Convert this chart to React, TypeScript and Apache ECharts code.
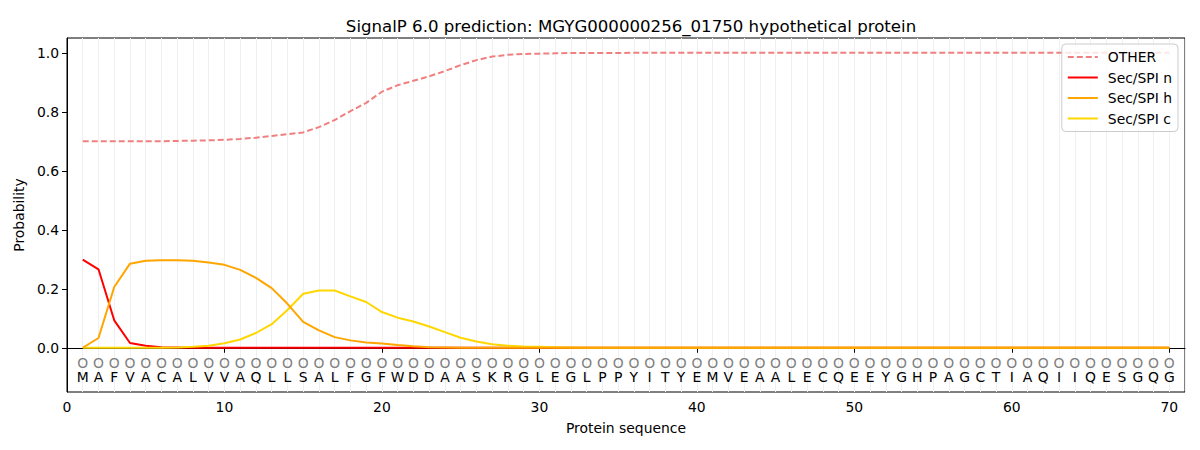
import React, { useEffect, useRef } from "react";
import * as echarts from "echarts";

const TITLE = "SignalP 6.0 prediction: MGYG000000256_01750 hypothetical protein";

const sequence = [
  "M","A","F","V","A","C","A","L","V","V",
  "A","Q","L","L","S","A","L","F","G","F",
  "W","D","D","A","A","S","K","R","G","L",
  "E","G","L","P","P","Y","I","T","Y","E",
  "M","V","E","A","A","L","E","C","Q","E",
  "E","Y","G","H","P","A","G","C","T","I",
  "A","Q","I","I","Q","E","S","G","Q","G",
];

const otherProb = [
  0.700,0.700,0.700,0.700,0.700,0.700,0.701,0.702,0.703,0.705,
  0.708,0.712,0.718,0.724,0.730,0.748,0.772,0.802,0.830,0.868,
  0.890,0.905,0.920,0.938,0.958,0.975,0.987,0.993,0.996,0.997,
  0.998,0.999,0.999,0.999,0.999,1,1,1,1,1,
  1,1,1,1,1,1,1,1,1,1,
  1,1,1,1,1,1,1,1,1,1,
  1,1,1,1,1,1,1,1,1,1,
];

const secN = [
  0.299,0.266,0.093,0.016,0.007,0.002,0.001,0,0,0,
  0,0,0,0,0,0,0,0,0,0,
  0,0,0,0,0,0,0,0,0,0,
  0,0,0,0,0,0,0,0,0,0,
  0,0,0,0,0,0,0,0,0,0,
  0,0,0,0,0,0,0,0,0,0,
  0,0,0,0,0,0,0,0,0,0,
];

const secH = [
  0,0.033,0.206,0.285,0.295,0.297,0.297,0.295,0.289,0.281,
  0.264,0.237,0.202,0.149,0.088,0.059,0.036,0.025,0.018,0.014,
  0.009,0.005,0.002,0.001,0,0,0,0,0,0,
  0,0,0,0,0,0,0,0,0,0,
  0,0,0,0,0,0,0,0,0,0,
  0,0,0,0,0,0,0,0,0,0,
  0,0,0,0,0,0,0,0,0,0,
];

const secC = [
  0,0,0,0,0,0,0.001,0.003,0.007,0.015,
  0.028,0.050,0.080,0.128,0.183,0.194,0.194,0.174,0.155,0.121,
  0.102,0.089,0.072,0.053,0.034,0.021,0.012,0.007,0.004,0.003,
  0.002,0.001,0,0,0,0,0,0,0,0,
  0,0,0,0,0,0,0,0,0,0,
  0,0,0,0,0,0,0,0,0,0,
  0,0,0,0,0,0,0,0,0,0,
];

const xTicks = [0, 10, 20, 30, 40, 50, 60, 70];
const yTicks = [0, 0.2, 0.4, 0.6, 0.8, 1.0];
const MARKER_Y = -0.05;
const LETTER_Y = -0.1;

const FONT = "DejaVu Sans";
const FS = 13.9;

function toPoints(vals: number[]) {
  return vals.map((v, i) => [i + 1, v]);
}

export default function App() {
  const ref = useRef<HTMLDivElement>(null);
  useEffect(() => {
    if (!ref.current) return;
    const chart = echarts.init(ref.current, null, { renderer: "svg" });
    const textSeries = (yVal: number, getText: (i: number) => string, color: string, name: string) => ({
      type: "custom",
      name,
      xAxisIndex: 0,
      yAxisIndex: 0,
      silent: true,
      z: 1,
      data: sequence.map((_, i) => [i + 1, yVal]),
      encode: { x: 0, y: 1 },
      renderItem: (params: any, api: any) => {
        const p = api.coord([api.value(0), api.value(1)]);
        return {
          type: "text",
          x: p[0],
          y: p[1],
          style: {
            text: getText(params.dataIndex),
            fill: color,
            font: `${FS}px '${FONT}'`,
            align: "center",
            verticalAlign: "middle",
          },
        };
      },
    });

    chart.setOption({
      animation: false,
      backgroundColor: "#ffffff",
      textStyle: { fontFamily: FONT },
      title: {
        text: TITLE,
        left: 626,
        top: 13,
        textAlign: "center",
        textStyle: { fontFamily: FONT, fontSize: 16.6, fontWeight: "normal", color: "#000" },
      },
      grid: {
        left: 67,
        right: 15,
        top: 38,
        bottom: 58,
        show: true,
        borderColor: "#000",
        borderWidth: 1,
        backgroundColor: "transparent",
      },
      legend: {
        orient: "vertical",
        right: 22,
        top: 44,
        data: ["OTHER", "Sec/SPI n", "Sec/SPI h", "Sec/SPI c"],
        itemWidth: 30,
        itemHeight: 14,
        itemGap: 6.5,
        padding: [6, 6, 6, 5],
        backgroundColor: "rgba(255,255,255,0.8)",
        borderColor: "#cccccc",
        borderWidth: 1,
        borderRadius: 4,
        itemStyle: { opacity: 0 },
        textStyle: { fontFamily: FONT, fontSize: FS, color: "#000", padding: [0, 0, 0, 5] },
      },
      xAxis: [
        {
          type: "value",
          min: 0,
          max: 71,
          name: "Protein sequence",
          nameLocation: "middle",
          nameGap: 29,
          nameTextStyle: { fontFamily: FONT, fontSize: FS, color: "#000" },
          axisLine: { show: true, lineStyle: { color: "#000" } },
          axisTick: { show: true, length: 5, lineStyle: { color: "#000" }, customValues: xTicks },
          axisLabel: { show: true, margin: 8, color: "#000", fontSize: FS, fontFamily: FONT, customValues: xTicks },
          splitLine: { show: false },
        },
        {
          type: "value",
          min: 0,
          max: 71,
          interval: 1,
          position: "bottom",
          axisLine: { show: false },
          axisTick: { show: false },
          axisLabel: { show: false },
          splitLine: { show: true, lineStyle: { color: "#f0f0f0", width: 1 } },
        },
      ],
      yAxis: {
        type: "value",
        min: -0.15,
        max: 1.05,
        name: "Probability",
        nameLocation: "middle",
        nameGap: 36,
        nameTextStyle: { fontFamily: FONT, fontSize: FS, color: "#000" },
        axisLine: { show: true, lineStyle: { color: "#000" } },
        axisTick: { show: true, length: 5, lineStyle: { color: "#000" }, customValues: yTicks },
        axisLabel: {
          show: true,
          margin: 8,
          color: "#000",
          fontSize: FS,
          fontFamily: FONT,
          customValues: yTicks,
          formatter: (v: number) => v.toFixed(1),
        },
        splitLine: { show: false },
      },
      series: [
        {
          name: "OTHER",
          type: "line",
          data: toPoints(otherProb),
          symbol: "none",
          z: 3,
          lineStyle: { color: "#F08080", width: 2, type: [6, 3] },
          itemStyle: { color: "#F08080" },
        },
        {
          name: "Sec/SPI n",
          type: "line",
          data: toPoints(secN),
          symbol: "none",
          z: 3,
          lineStyle: { color: "#FF0000", width: 2 },
          itemStyle: { color: "#FF0000" },
        },
        {
          name: "Sec/SPI c",
          type: "line",
          data: toPoints(secC),
          symbol: "none",
          z: 4,
          lineStyle: { color: "#FFD700", width: 2 },
          itemStyle: { color: "#FFD700" },
        },
        {
          name: "Sec/SPI h",
          type: "line",
          data: toPoints(secH),
          symbol: "none",
          z: 5,
          lineStyle: { color: "#FFA500", width: 2 },
          itemStyle: { color: "#FFA500" },
        },
        textSeries(MARKER_Y, () => "O", "#808080", "markers"),
        textSeries(LETTER_Y, (i) => sequence[i], "#000000", "letters"),
      ],
    });
    return () => chart.dispose();
  }, []);
  return (
    <div
      ref={ref}
      style={{ position: "absolute", left: 0, top: 0, width: 1200, height: 450 }}
    />
  );
}
